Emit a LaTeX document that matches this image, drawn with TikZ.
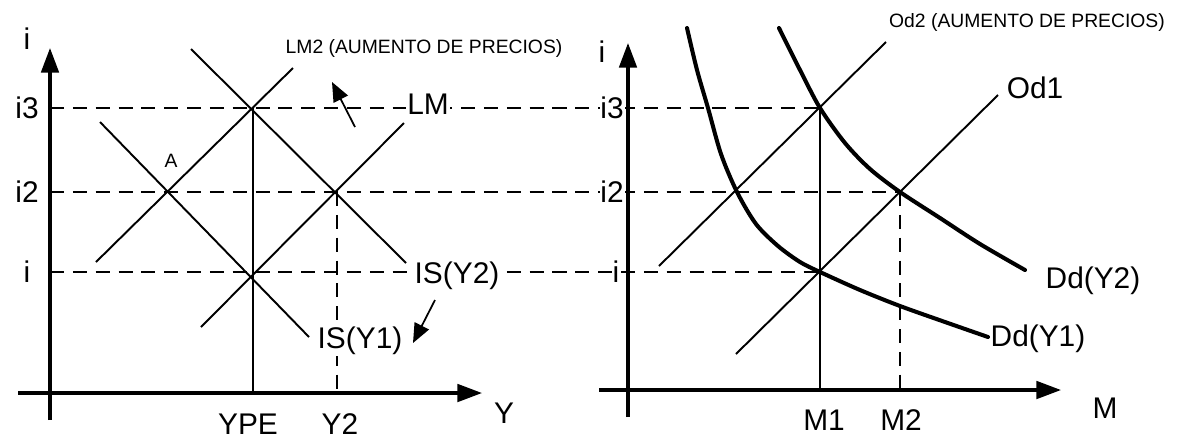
\documentclass[tikz,border=0pt]{standalone}
\usepackage{fontspec}
\setmainfont{Liberation Sans}
\usetikzlibrary{arrows.meta}
\tikzset{
  axis/.style={line width=1.8pt,-{Triangle[length=14pt,width=10pt]}},
  guide/.style={line width=0.6pt,dash pattern=on 8pt off 5pt},
  drop/.style={line width=0.6pt},
  sched/.style={line width=1.1pt},
  demand/.style={line width=2.3pt,line cap=round},
  shiftarrow/.style={line width=1pt,-{Triangle[length=11pt,width=9pt]}},
  lbl/.style={font=\fontsize{17}{19}\selectfont,fill=white,inner sep=0.5pt},
  note/.style={font=\fontsize{11}{13}\selectfont,inner sep=1pt},
}
\begin{document}
\begin{tikzpicture}[x=0.02cm,y=-0.02cm]
  \useasboundingbox (0,0) rectangle (1180,441);
  % intersection points shared by both panels
  \coordinate (eA) at (168,192);
  \coordinate (eTop) at (253,108);
  \coordinate (eLow) at (253,272);
  \coordinate (eY2) at (337,192);
  \coordinate (mTop) at (820,108);
  \coordinate (mLow) at (820,272);
  \coordinate (mM2) at (900,192);
  \coordinate (yAx3) at (50,108);
  \coordinate (yAx2) at (50,192);
  \coordinate (yAx1) at (50,272);

  % guide lines first, labels cut them
  \draw[guide] (yAx3) -- (mTop);
  \draw[guide] (yAx2) -- (mM2);
  \draw[guide] (yAx1) -- (mLow);

  % left panel: IS-LM
  \coordinate (yB) at (50,420);
  \coordinate (yT) at (50,48);
  \coordinate (xL) at (18,393);
  \coordinate (xR) at (482,393);
  \draw[axis] (yB) -- (yT);
  \draw[axis] (xL) -- (xR);
  \coordinate (is1a) at (100,122);
  \coordinate (is1b) at (309,337);
  \coordinate (is2a) at (191,49);
  \coordinate (is2b) at (406,263);
  \coordinate (lm2a) at (96,262);
  \coordinate (lm2b) at (293,68);
  \coordinate (lma) at (201,327);
  \coordinate (lmb) at (404,123);
  \draw[sched] (is1a) -- (is1b);
  \draw[sched] (is2a) -- (is2b);
  \draw[sched] (lm2a) -- (lm2b);
  \draw[sched] (lma) -- (lmb);
  \coordinate (ype) at (253,393);
  \coordinate (y2) at (337,393);
  \draw[drop] (eTop) -- (ype);
  \draw[guide] (eY2) -- (y2);

  \node[lbl] (iL) at (27,39) {i};
  \node[lbl] (i3L) at (27,108) {i3};
  \node[lbl] (i2L) at (27,192) {i2};
  \node[lbl] (i1L) at (27,272) {i};
  \node[note] (nA) at (171,161) {A};
  \node[note] (nLM2) at (424,48) {LM2 (AUMENTO DE PRECIOS)};
  \node[lbl] (nLM) at (428,104) {LM};
  \node[lbl] (nIS2) at (457,276) {IS(Y2)};
  \node[lbl] (nIS1) at (360,341) {IS(Y1)};
  \node[lbl] (nYPE) at (248,424) {YPE};
  \node[lbl] (nY2) at (340,424) {Y2};
  \node[lbl] (nY) at (504,413) {Y};
  \coordinate (lmFrom) at (355,127);
  \coordinate (lmTo) at (332,82);
  \coordinate (isFrom) at (435,300);
  \coordinate (isTo) at (413,343);
  \draw[shiftarrow] (lmFrom) -- (lmTo);
  \draw[shiftarrow] (isFrom) -- (isTo);

  % right panel: money market
  \coordinate (mB) at (628,417);
  \coordinate (mT) at (628,43);
  \coordinate (mxL) at (599,390);
  \coordinate (mxR) at (1061,390);
  \draw[axis] (mB) -- (mT);
  \draw[axis] (mxL) -- (mxR);
  \coordinate (od2a) at (659,266);
  \coordinate (od2b) at (886,42);
  \coordinate (od1a) at (736,354);
  \coordinate (od1b) at (998,95);
  \draw[sched] (od2a) -- (od2b);
  \draw[sched] (od1a) -- (od1b);
  \draw[demand] plot[smooth] coordinates
    {(687,28) (697,70) (708,108) (721,154) (737,192) (756,224)
     (778,246) (800,262) (820,272) (860,290) (900,306) (945,322) (988,337)};
  \draw[demand] plot[smooth] coordinates
    {(779,28) (800,70) (820,108) (845,143) (870,169) (900,192)
     (940,218) (980,244) (1025,270)};
  \coordinate (m1) at (820,390);
  \coordinate (m2) at (900,390);
  \draw[drop] (mTop) -- (m1);
  \draw[guide] (mM2) -- (m2);

  \node[lbl] (iR) at (602,52) {i};
  \node[lbl] (i3R) at (612,108) {i3};
  \node[lbl] (i2R) at (612,192) {i2};
  \node[lbl] (i1R) at (616,272) {i};
  \node[note] (nOd2) at (1027,22) {Od2 (AUMENTO DE PRECIOS)};
  \node[lbl] (nOd1) at (1035,88) {Od1};
  \node[lbl] (nDd2) at (1093,281) {Dd(Y2)};
  \node[lbl] (nDd1) at (1038,339) {Dd(Y1)};
  \node[lbl] (nM1) at (824,420) {M1};
  \node[lbl] (nM2) at (901,420) {M2};
  \node[lbl] (nM) at (1105,408) {M};
\end{tikzpicture}
\end{document}
